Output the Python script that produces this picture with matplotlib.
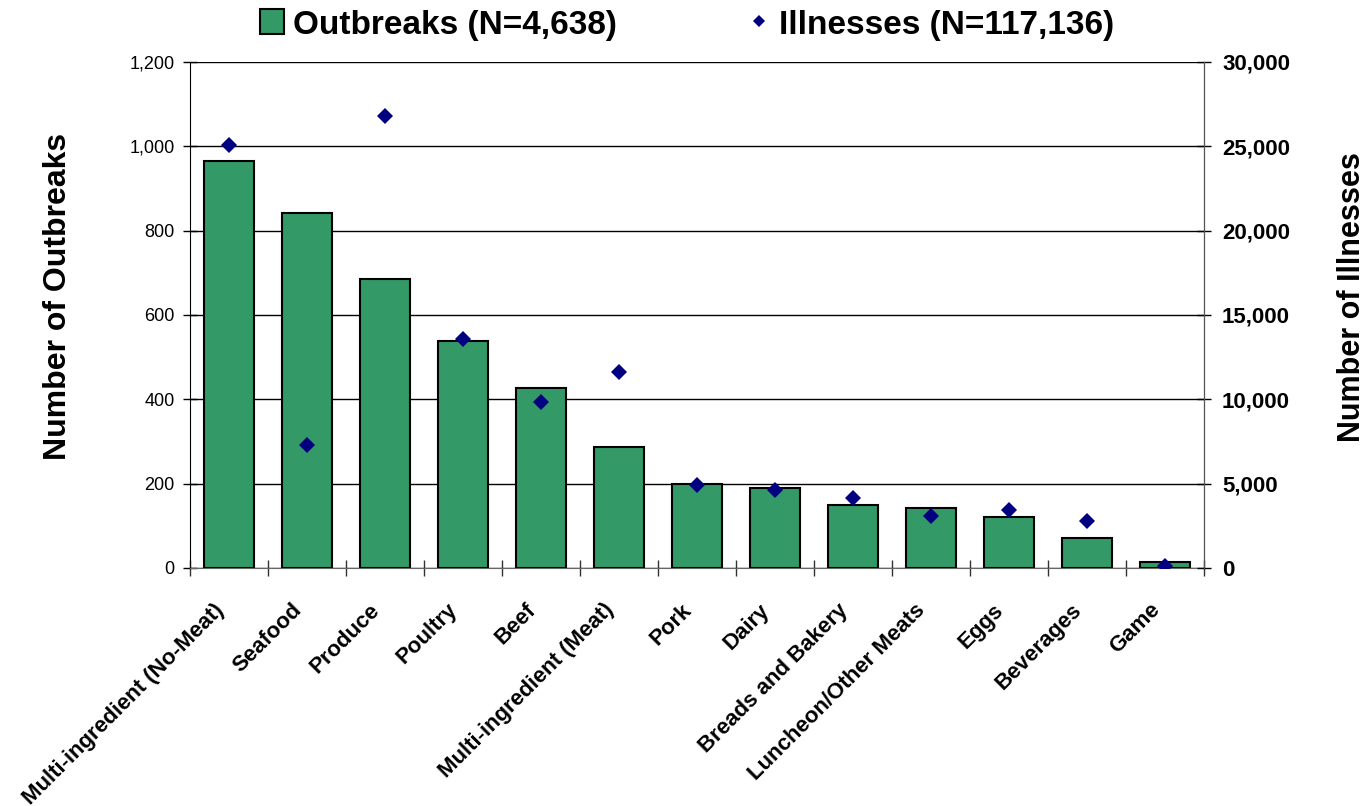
import matplotlib
matplotlib.use("Agg")
import matplotlib.pyplot as plt
import matplotlib.transforms as mtransforms
import numpy as np
from matplotlib.ticker import FuncFormatter, FixedLocator

plt.rcParams['font.family'] = ['Liberation Sans', 'DejaVu Sans']

# data
categories = ["Multi-ingredient (No-Meat)", "Seafood", "Produce", "Poultry", "Beef",
              "Multi-ingredient (Meat)", "Pork", "Dairy", "Breads and Bakery",
              "Luncheon/Other Meats", "Eggs", "Beverages", "Game"]
outbreaks = [966, 841, 685, 539, 428, 288, 200, 190, 149, 142, 122, 72, 14]
illnesses = [25100, 7310, 26780, 13580, 9840, 11620, 4940, 4600, 4170, 3060, 3420, 2810, 100]

outbreak_label = "Outbreaks (N=4,638)"
illness_label = "Illnesses (N=117,136)"

bar_color = "#339966"
marker_color = "#000080"

fig = plt.figure(figsize=(13.69, 8.06), dpi=100)
ax1 = fig.add_axes([0.1388, 0.2953, 0.8795 - 0.1388, 0.9231 - 0.2953])
ax2 = ax1.twinx()

x = np.arange(len(categories))
bars = ax1.bar(x, outbreaks, width=0.65, color=bar_color, edgecolor="black",
               linewidth=1.5, label=outbreak_label, zorder=2)
pts, = ax2.plot(x, illnesses, linestyle="none", marker="D", markersize=8,
                color=marker_color, markeredgewidth=0, label=illness_label, zorder=3)

# left axis
ax1.set_xlim(-0.5, len(categories) - 0.5)
ax1.set_ylim(0, 1200)
ax1.set_yticks(np.arange(0, 1201, 200))
ax1.yaxis.set_major_formatter(FuncFormatter(lambda v, p: "{:,.0f}".format(v)))
ax1.grid(axis="y", color="black", linewidth=1.0, zorder=0)
ax1.set_axisbelow(True)
ax1.tick_params(axis="y", direction="inout", length=10, width=1, labelsize=13, pad=6)
ax1.set_ylabel("Number of Outbreaks", fontsize=23, fontweight="bold")
ax1.yaxis.set_label_coords(-0.130, 0.536)
ax1.yaxis.label.set_va("center")

# right axis
ax2.set_ylim(0, 30000)
ax2.set_yticks(np.arange(0, 30001, 5000))
ax2.yaxis.set_major_formatter(FuncFormatter(lambda v, p: "{:,.0f}".format(v)))
ax2.tick_params(axis="y", direction="inout", length=10, width=1, labelsize=16, pad=8)
for lab in ax2.get_yticklabels():
    lab.set_fontweight("bold")
ax2.set_ylabel("Number of Illnesses", fontsize=22, fontweight="bold", rotation=90)
ax2.yaxis.set_label_coords(1.146, 0.536)
ax2.yaxis.label.set_va("center")

# category axis: labels at centers, tick marks at boundaries
ax1.set_xticks(x)
ax1.set_xticklabels(categories, rotation=45, ha="right", rotation_mode="anchor",
                    fontsize=16, fontweight="bold")
ax1.tick_params(axis="x", which="major", length=0, pad=14)
shift = mtransforms.ScaledTranslation(-16 / 100, -12 / 100, fig.dpi_scale_trans)
for lab in ax1.get_xticklabels():
    lab.set_transform(lab.get_transform() + shift)
ax1.xaxis.set_minor_locator(FixedLocator(np.arange(-0.5, len(categories), 1.0)))
ax1.tick_params(axis="x", which="minor", direction="inout", length=11, width=1, color="#333333")

for a in (ax1, ax2):
    a.spines["top"].set_visible(False)
ax1.spines["left"].set_color("black")
ax1.spines["bottom"].set_color("#666666")
ax2.spines["bottom"].set_visible(False)
ax2.spines["left"].set_visible(False)
ax2.spines["right"].set_color("#555555")

fig.legend(handles=[bars, pts], labels=[outbreak_label, illness_label],
           loc="center", bbox_to_anchor=(0.502, 0.969), ncol=2, frameon=False,
           prop={"size": 24, "weight": "bold"}, handlelength=0.72, handleheight=0.78,
           handletextpad=0.25, columnspacing=3.9, markerscale=0.8)

fig.savefig("out.png", dpi=100)
